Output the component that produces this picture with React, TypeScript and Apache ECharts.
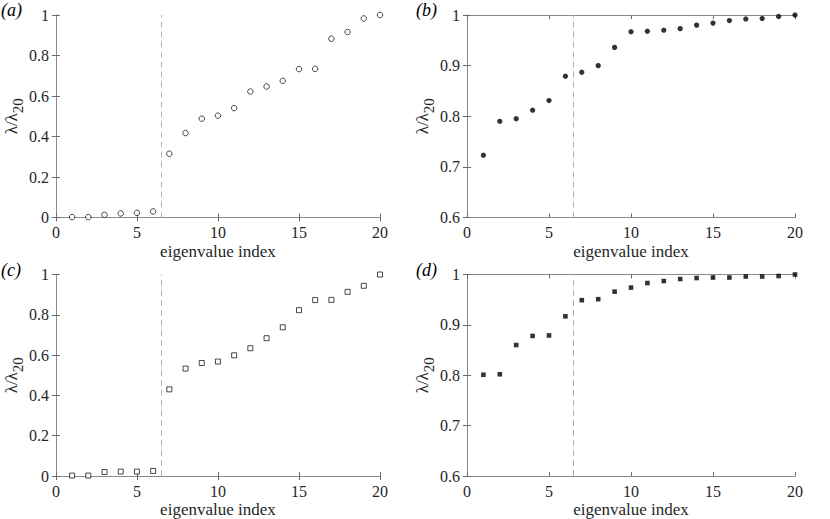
import React, { useEffect, useRef } from "react";
import * as echarts from "echarts";

const eigenIndex = [1, 2, 3, 4, 5, 6, 7, 8, 9, 10, 11, 12, 13, 14, 15, 16, 17, 18, 19, 20];
const ratioA = [0.002, 0.002, 0.013, 0.02, 0.023, 0.03, 0.315, 0.417, 0.488, 0.503, 0.54, 0.622, 0.647, 0.675, 0.733, 0.734, 0.883, 0.916, 0.983, 1.0];
const ratioB = [0.723, 0.79, 0.795, 0.812, 0.831, 0.879, 0.887, 0.9, 0.936, 0.967, 0.968, 0.97, 0.973, 0.98, 0.984, 0.989, 0.992, 0.993, 0.997, 1.0];
const ratioC = [0.002, 0.002, 0.02, 0.022, 0.022, 0.025, 0.43, 0.533, 0.561, 0.568, 0.599, 0.634, 0.684, 0.738, 0.823, 0.873, 0.874, 0.914, 0.944, 1.0];
const ratioD = [0.801, 0.802, 0.86, 0.878, 0.879, 0.917, 0.949, 0.951, 0.966, 0.974, 0.983, 0.987, 0.991, 0.993, 0.994, 0.994, 0.996, 0.996, 0.997, 1.0];
const panelLabels = ["(a)", "(b)", "(c)", "(d)"];
const splitIndex = 6.5;
const xLabel = "eigenvalue index";

const FONT = "Liberation Serif, Times New Roman, Times, serif";

export default function App() {
  const ref = useRef<HTMLDivElement>(null);
  useEffect(() => {
    document.body.style.margin = "0";
    const chart = echarts.init(ref.current as HTMLDivElement, null, { renderer: "svg" });

    const panels = [
      { left: 52, top: 15, data: ratioA, yMin: 0, yInt: 0.2, symbol: "circle", filled: false, size: 5.5 },
      { left: 467, top: 15, data: ratioB, yMin: 0.6, yInt: 0.1, symbol: "circle", filled: true, size: 5.3 },
      { left: 52, top: 274.5, data: ratioC, yMin: 0, yInt: 0.2, symbol: "rect", filled: false, size: 5 },
      { left: 467, top: 274.5, data: ratioD, yMin: 0.6, yInt: 0.1, symbol: "rect", filled: true, size: 4.6 },
    ];

    const axisLine = { show: true, lineStyle: { color: "#8a8a8a", width: 1 } };
    const axisTick = { show: true, inside: true, length: 4, lineStyle: { color: "#6a6a6a", width: 1 } };
    const labelStyle = { color: "#262626", fontFamily: FONT, fontSize: 16 };

    const grid: any[] = [];
    const xAxis: any[] = [];
    const yAxis: any[] = [];
    const series: any[] = [];
    const graphic: any[] = [];

    panels.forEach((p, i) => {
      grid.push({ left: p.left, top: p.top, width: 328, height: 202.5 });
      xAxis.push({
        type: "value", gridIndex: i, position: "bottom", min: 0, max: 20, interval: 5,
        axisLine, axisTick, splitLine: { show: false },
        axisLabel: { ...labelStyle, margin: 7 },
        name: xLabel, nameLocation: "middle", nameGap: 25,
        nameTextStyle: { color: "#262626", fontFamily: FONT, fontSize: 17 },
      });
      xAxis.push({
        type: "value", gridIndex: i, position: "top", min: 0, max: 20, interval: 5,
        axisLine, axisTick, splitLine: { show: false }, axisLabel: { show: false },
      });
      yAxis.push({
        type: "value", gridIndex: i, position: "left", min: p.yMin, max: 1, interval: p.yInt,
        axisLine, axisTick, splitLine: { show: false },
        axisLabel: { ...labelStyle, margin: 7 },
        name: "{a|λ/λ}{s|20}", nameLocation: "middle", nameGap: 25, nameRotate: 90,
        nameTextStyle: {
          color: "#262626", fontFamily: FONT,
          rich: {
            a: { fontFamily: FONT, fontSize: 17, color: "#262626", lineHeight: 22, verticalAlign: "top" },
            s: { fontFamily: FONT, fontSize: 15, color: "#262626", lineHeight: 22, verticalAlign: "bottom", padding: [9, 0, 0, 0] },
          },
        },
      });
      yAxis.push({
        type: "value", gridIndex: i, position: "right", min: p.yMin, max: 1, interval: p.yInt,
        axisLine, axisTick, splitLine: { show: false }, axisLabel: { show: false },
      });
      series.push({
        type: "scatter",
        xAxisIndex: 2 * i,
        yAxisIndex: 2 * i,
        symbol: p.symbol,
        symbolSize: p.size,
        clip: false,
        itemStyle: {
          color: p.filled ? "#000" : "#fff",
          borderColor: "#000",
          borderWidth: p.filled ? 0 : 0.9,
        },
        data: eigenIndex.map((x, k) => [x, p.data[k]]),
        markLine: {
          silent: true,
          symbol: ["none", "none"],
          label: { show: false },
          lineStyle: { color: "#b5b5b5", type: [6, 4], width: 1 },
          data: [{ xAxis: splitIndex }],
        },
        z: 3,
      });
      graphic.push({
        type: "text",
        left: p.left - 52 + 1,
        top: p.top - 15 + 1,
        style: { text: panelLabels[i], font: `italic 18px ${FONT}`, fill: "#000" },
      });
    });

    chart.setOption({
      animation: false,
      backgroundColor: "#fff",
      grid,
      xAxis,
      yAxis,
      series,
      graphic,
    });
    return () => chart.dispose();
  }, []);
  return <div ref={ref} style={{ width: 830, height: 519 }} />;
}
